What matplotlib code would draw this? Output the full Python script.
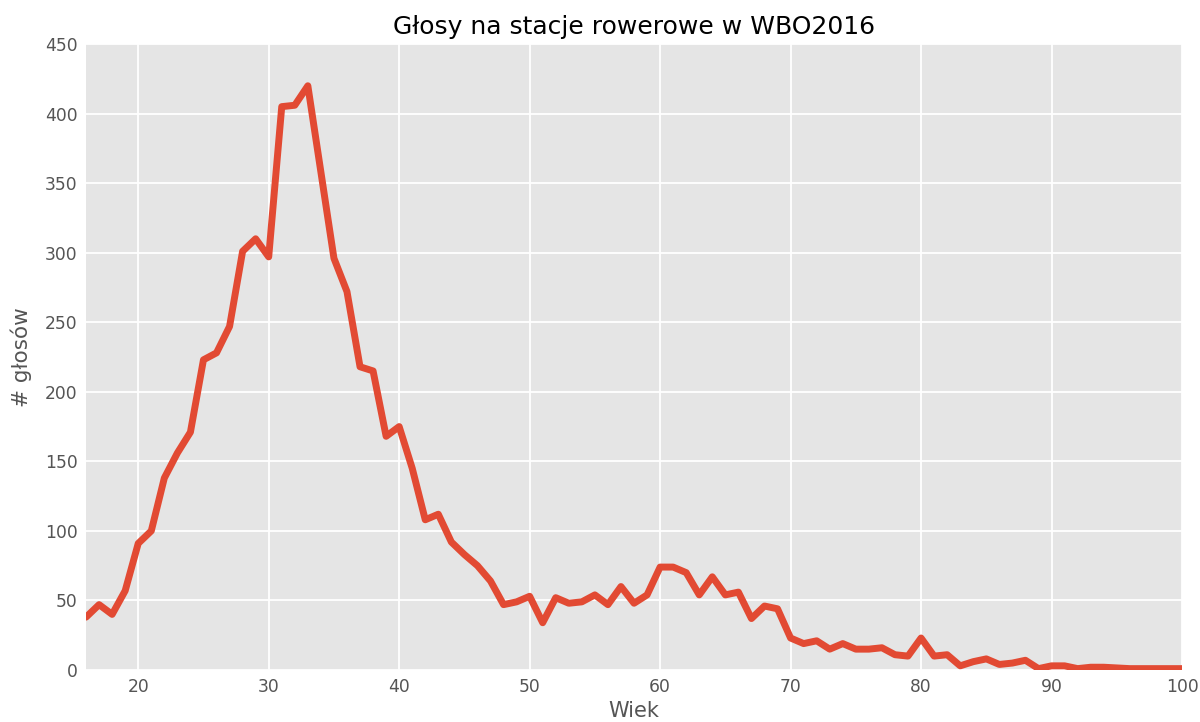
import numpy as np
import matplotlib
matplotlib.use("Agg")
import matplotlib.pyplot as plt

plt.style.use("ggplot")

# wiek glosujacych i liczba glosow
ages = list(range(16, 101))
votes = [38, 47, 40, 57, 91, 100, 138, 156, 171, 223,
         228, 247, 301, 310, 297, 405, 406, 420, 358, 296,
         272, 218, 215, 168, 175, 145, 108, 112, 92, 83,
         75, 64, 47, 49, 53, 34, 52, 48, 49, 54,
         47, 60, 48, 54, 74, 74, 70, 54, 67, 54,
         56, 37, 46, 44, 23, 19, 21, 15, 19, 15,
         15, 16, 11, 10, 23, 10, 11, 3, 6, 8,
         4, 5, 7, 1, 3, 3, 1, 2, 2, 1.5,
         1, 1, 1, 1, 1]

fig = plt.figure(figsize=(12, 7.22), dpi=100)
ax = fig.add_axes([0.0717, 0.072, 0.9133, 0.867])
ax.set_facecolor("#E5E5E5")
ax.plot(ages, votes, color="#E24A33", lw=5, solid_capstyle="round")

ax.set_xlim(16, 100)
ax.set_ylim(0, 450)
ax.set_xticks(range(20, 101, 10))
ax.set_yticks(range(0, 451, 50))
ax.grid(True, color="white", lw=1.3)
ax.tick_params(length=0, labelsize=12.3, colors="#555555", pad=6)
for s in ax.spines.values():
    s.set_visible(False)

ax.set_title("Głosy na stacje rowerowe w WBO2016", fontsize=18, color="black", pad=7)
ax.set_xlabel("Wiek", fontsize=15, color="#555555", labelpad=3)
ax.set_ylabel("# głosów", fontsize=15.5, color="#555555", labelpad=9)

fig.savefig("out.png", dpi=100)
